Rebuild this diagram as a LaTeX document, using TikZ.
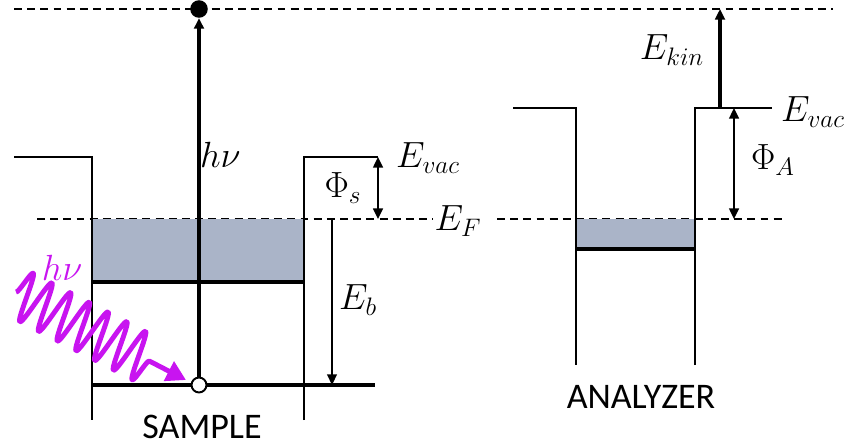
\documentclass[tikz,border=0pt]{standalone}
\usepackage{fontspec}
\newfontfamily\capfont{Carlito}
\usetikzlibrary{arrows.meta, decorations.pathmorphing, positioning}

\definecolor{bandgrey}{RGB}{170,180,200}
\definecolor{photonpink}{RGB}{200,20,240}

\begin{document}
\begin{tikzpicture}[
    x=0.02cm, y=-0.02cm,
    wall/.style={line width=0.6pt},
    guide/.style={line width=0.6pt, dash pattern=on 4.5pt off 3pt},
    bandline/.style={line width=2.6pt},
    arrowhead/.style={-{Triangle[length=6pt,width=5.5pt]}},
    bigarrow/.style={arrowhead, line width=1.9pt},
    gap/.style={{Triangle[length=6pt,width=5.5pt]}-{Triangle[length=6pt,width=5.5pt]}, line width=1.2pt},
    lbl/.style={font=\fontsize{22.5}{26}\selectfont, inner sep=1pt},
    captext/.style={font=\capfont\fontsize{20.5}{24}\selectfont, inner sep=0pt},
    photon/.style={
        photonpink,
        line width=2.8pt,
        line join=round,
        decorate,
        decoration={snake, amplitude=14pt, segment length=12pt, post length=20pt},
        -{Triangle[length=11pt,width=12pt]}
    }
]
\useasboundingbox (0,0) rectangle (847,447);

% Reference levels
\coordinate (top0) at (14,9);
\coordinate (top1) at (833,9);
\coordinate (ef0) at (37,219);
\coordinate (ef1) at (433,219);
\coordinate (ef2) at (497,219);
\coordinate (ef3) at (785,219);
\draw[guide] (top0) -- (top1);
\draw[guide] (ef0) -- (ef1);
\draw[guide] (ef2) -- (ef3);

% Sample well
\fill[bandgrey] (92,219) rectangle (304,282);
\draw[wall] (14,157) -- (92,157) -- (92,420);
\draw[wall] (304,420) -- (304,157) -- (378,157);
\coordinate (vb0) at (92,282);
\coordinate (vb1) at (304,282);
\coordinate (core0) at (92,385);
\coordinate (core1) at (375,385);
\draw[bandline] (vb0) -- (vb1);
\draw[bandline] (core0) -- (core1);

% Analyzer well
\fill[bandgrey] (576,219) rectangle (695,249);
\draw[wall] (513,108) -- (576,108) -- (576,365);
\draw[wall] (695,365) -- (695,108) -- (772,108);
\coordinate (av0) at (576,249);
\coordinate (av1) at (695,249);
\draw[line width=1.8pt] (av0) -- (av1);

% Electron excited by the photon
\node (hole) [circle, draw, fill=white, line width=1.1pt, minimum size=8.5pt, inner sep=0pt] at (199,385) {};
\node (elec) [circle, fill=black, minimum size=10pt, inner sep=0pt] at (199,9) {};
\draw[bigarrow] (hole) -- (elec);
\node (hnu) [lbl, anchor=west] at (198,155) {$h\nu$};

% Sample work function and binding energy
\coordinate (phis0) at (378,157);
\coordinate (phis1) at (378,219);
\draw[gap] (phis0) -- (phis1);
\node (phis) [lbl] at (343,188) {$\Phi_s$};
\node (evacs) [lbl, anchor=west] at (394,158) {$E_{vac}$};
\node (ef) [lbl] at (458,221) {$E_F$};
\coordinate (eb0) at (332,219);
\coordinate (eb1) at (332,385);
\draw[arrowhead, line width=0.9pt] (eb0) -- (eb1);
\node (eb) [lbl] at (358,300) {$E_b$};

% Analyzer work function and kinetic energy
\coordinate (kin0) at (720,108);
\coordinate (kin1) at (720,9);
\draw[bigarrow] (kin0) -- (kin1);
\node (ekin) [lbl] at (672,50) {$E_{kin}$};
\coordinate (phia0) at (734,108);
\coordinate (phia1) at (734,219);
\draw[gap] (phia0) -- (phia1);
\node (phia) [lbl] at (773,160) {$\Phi_A$};
\node (evaca) [lbl, anchor=west] at (779,112) {$E_{vac}$};

% Incoming photon
\coordinate (ph0) at (16,292);
\coordinate (ph1) at (186,380);
\draw[photon] (ph0) -- (ph1);
\node (phlbl) [lbl, photonpink] at (62,268) {$h\nu$};

% Captions
\node (sample) [captext, anchor=base] at (202,438) {SAMPLE};
\node (analyzer) [captext, anchor=base] at (641,408) {ANALYZER};
\end{tikzpicture}
\end{document}
